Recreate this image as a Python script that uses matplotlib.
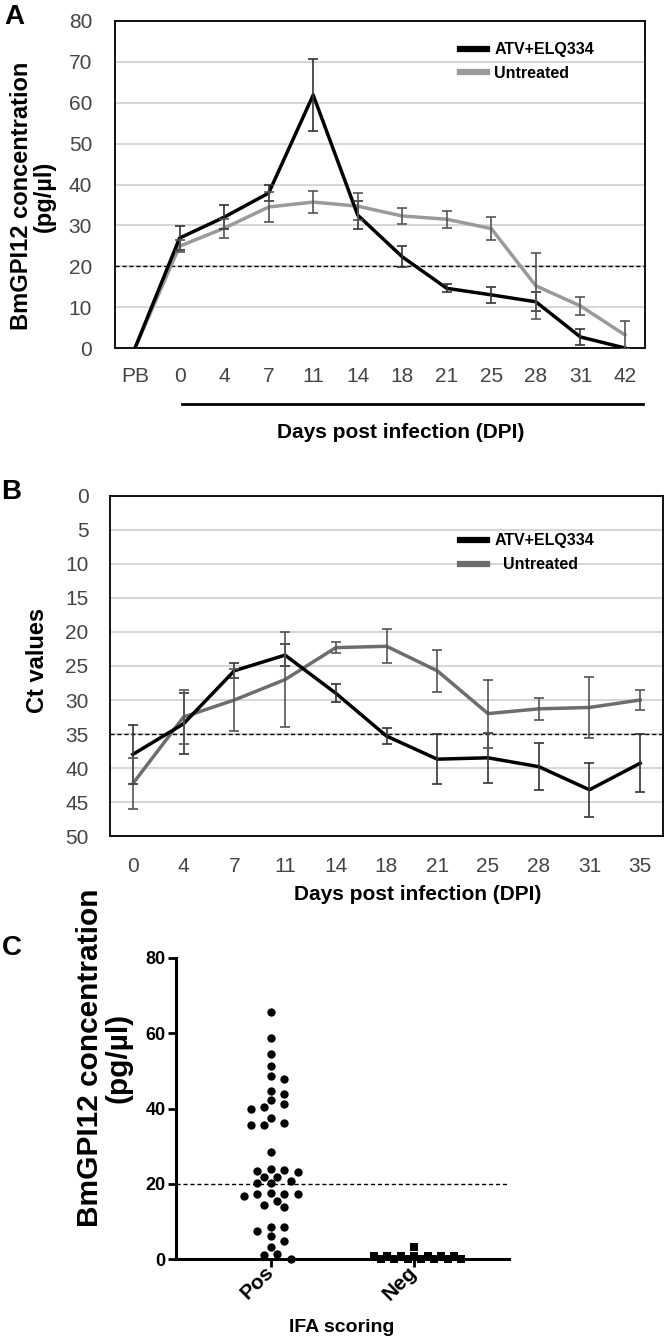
import numpy as np
import matplotlib
matplotlib.use("Agg")
import matplotlib.pyplot as plt
from matplotlib.lines import Line2D

plt.rcParams['font.family'] = ['Liberation Sans', 'DejaVu Sans']

# ---- panel A data: BmGPI12 concentration (pg/ul) ----
days_a = ['PB', '0', '4', '7', '11', '14', '18', '21', '25', '28', '31', '42']
atv_a = [0, 26.9, 32.0, 37.9, 61.9, 32.5, 22.3, 14.6, 13.0, 11.3, 2.7, 0]
atv_a_err = [np.nan, 3.0, 3.0, 2.0, 8.9, 3.5, 2.6, 1.0, 2.0, 2.3, 2.0, np.nan]
unt_a = [0, 24.9, 29.3, 34.5, 35.7, 34.7, 32.3, 31.5, 29.2, 15.2, 10.3, 3.2]
unt_a_err = [np.nan, 1.5, 2.3, 3.7, 2.6, 3.3, 2.0, 2.1, 2.9, 8.0, 2.2, 3.4]

# ---- panel B data: Ct values ----
days_b = ['0', '4', '7', '11', '14', '18', '21', '25', '28', '31', '35']
atv_b = [38.0, 33.5, 25.7, 23.4, 29.0, 35.3, 38.7, 38.5, 39.8, 43.2, 39.3]
atv_b_err = [4.3, 4.5, 1.1, 1.6, 1.3, 1.2, 3.7, 3.7, 3.5, 4.0, 4.3]
unt_b = [42.3, 32.5, 30.0, 27.0, 22.3, 22.1, 25.7, 32.0, 31.3, 31.1, 30.0]
unt_b_err = [3.8, 4.0, 4.5, 7.0, 0.8, 2.5, 3.1, 5.0, 1.6, 4.5, 1.5]

# ---- panel C data: IFA scoring ----
ifa_groups = ['Pos', 'Neg']
pos_vals = [65.7, 58.7, 54.5, 51.4, 48.6, 47.8, 44.6, 43.8, 42.3, 40.5, 39.9, 41.1,
            36.2, 35.6, 35.6, 37.4, 28.5, 23.7, 23.2, 21.9, 20.7, 20.1, 21.9, 20.3,
            23.5, 23.8, 17.3, 17.3, 15.5, 17.5, 16.7, 17.3, 13.9, 14.3, 8.4, 6.1,
            4.9, 7.5, 8.4, 3.1, 1.3, 1.1, 0.0]
neg_vals = [3.2, 0.7, 0.7, 0.7, 0.7, 0.7, 0.7, 0.7, 0.0, 0.0, 0.0, 0.0, 0.0, 0.0, 0.0]

W, H = 666, 1337
fig = plt.figure(figsize=(W / 100, H / 100), dpi=100)


def box(l, t, r, b):
    return [l / W, 1 - b / H, (r - l) / W, (b - t) / H]


def line_panel(ax, cats, atv, atv_err, unt, unt_err, grey, unt_label):
    x = np.arange(len(cats))
    ax.plot(x, atv, color='black', lw=2.5, label='ATV+ELQ334', zorder=4)
    ax.plot(x, unt, color=grey, lw=2.5, label=unt_label, zorder=3)
    ax.errorbar(x, atv, yerr=atv_err, fmt='none', ecolor='#333333',
                elinewidth=1.2, capsize=3.5, capthick=1.2, zorder=5)
    ax.errorbar(x, unt, yerr=unt_err, fmt='none', ecolor='#555555',
                elinewidth=1.2, capsize=3.5, capthick=1.2, zorder=5)
    ax.set_xticks(x)
    ax.set_xticklabels(cats)
    ax.set_xlim(-0.45, len(cats) - 0.55)
    ax.grid(axis='y', color='#cfcfcf', lw=1.2)
    ax.set_axisbelow(True)
    for s in ax.spines.values():
        s.set_color('black')
        s.set_linewidth(1.3)
    ax.tick_params(length=0, labelsize=15, labelcolor='#444444')
    leg = ax.legend(loc='upper left', frameon=False,
                    prop={'weight': 'bold', 'size': 11.5},
                    handlelength=1.7, handletextpad=0.45, labelspacing=0.55,
                    borderpad=0, borderaxespad=0)
    for h in leg.get_lines():
        h.set_linewidth(4.5)
    return leg


# ---------- A ----------
axA = fig.add_axes(box(115, 21, 645, 348))
legA = line_panel(axA, days_a, atv_a, atv_a_err, unt_a, unt_a_err, '#9a9a9a', 'Untreated')
legA.set_bbox_to_anchor((0.651, 0.935), transform=axA.transAxes)
axA.set_ylim(0, 80)
axA.set_yticks(range(0, 81, 10))
axA.axhline(20, color='black', lw=1, ls=(0, (3, 2)), zorder=2)
axA.tick_params(axis='y', pad=16.5)
axA.tick_params(axis='x', pad=14)
fig.add_artist(Line2D([182 / W, 643 / W], [1 - 404 / H, 1 - 404 / H],
                      color='black', lw=2))
fig.text(401 / W, 1 - 433 / H, 'Days post infection (DPI)', ha='center', va='center',
         fontsize=15, fontweight='bold')
fig.text(33 / W, 1 - 196 / H, 'BmGPI12 concentration\n(pg/µl)', rotation=90,
         ha='center', va='center', fontsize=17, fontweight='bold', linespacing=1.0)
fig.text(14 / W, 1 - 17 / H, 'A', ha='center', va='center', fontsize=20, fontweight='bold')

# ---------- B ----------
axB = fig.add_axes(box(110, 496, 663, 836))
legB = line_panel(axB, days_b, atv_b, atv_b_err, unt_b, unt_b_err, '#6d6d6d', '  Untreated')
legB.set_bbox_to_anchor((0.633, 0.89), transform=axB.transAxes)
axB.set_ylim(50, 0)
axB.set_yticks(range(0, 51, 5))
axB.axhline(35, color='black', lw=1, ls=(0, (3, 2)), zorder=2)
axB.tick_params(axis='y', pad=15.5)
axB.tick_params(axis='x', pad=15)
fig.text(418 / W, 1 - 895 / H, 'Days post infection (DPI)', ha='center', va='center',
         fontsize=15, fontweight='bold')
fig.text(37 / W, 1 - 660 / H, 'Ct values', rotation=90, ha='center', va='center',
         fontsize=17, fontweight='bold')
fig.text(11 / W, 1 - 492 / H, 'B', ha='center', va='center', fontsize=20, fontweight='bold')

# ---------- C ----------
axC = fig.add_axes(box(176, 958, 509, 1259))
axC.set_xlim(-0.66, 1.66)
axC.set_ylim(0, 80)


def swarm(values, ax, diam=7.8, step=6.7):
    # simple beeswarm: spread points sideways so that markers do not overlap
    pos = ax.get_position()
    x0, x1 = ax.get_xlim()
    y0, y1 = ax.get_ylim()
    ppx = pos.width * W / (x1 - x0)
    ppy = pos.height * H / (y1 - y0)
    vals = np.asarray(values, float)
    offs = np.zeros(len(vals))
    placed = []
    cands = [0]
    for k in range(1, 30):
        cands += [k, -k]
    for i in np.argsort(-vals, kind='stable'):
        y = vals[i] * ppy
        for k in cands:
            xo = k * step
            if all((xo - px) ** 2 + (y - py) ** 2 >= diam ** 2 for px, py in placed):
                break
        placed.append((xo, y))
        offs[i] = xo / ppx
    return offs


axC.scatter(0 + swarm(pos_vals, axC, diam=8.6), pos_vals, s=36, color='black', marker='o',
            clip_on=False, zorder=4, linewidths=0)
axC.scatter(1 + swarm(neg_vals, axC, diam=6.9), neg_vals, s=32, color='black', marker='s',
            clip_on=False, zorder=4, linewidths=0)
axC.axhline(20, color='black', lw=1, ls=(0, (3, 2)), zorder=2)
for s in ['top', 'right']:
    axC.spines[s].set_visible(False)
for s in ['left', 'bottom']:
    axC.spines[s].set_linewidth(2.2)
axC.set_yticks(range(0, 81, 20))
axC.set_xticks([0, 1])
axC.set_xticklabels(ifa_groups, rotation=45, ha='right', va='center',
                    rotation_mode='anchor')
axC.tick_params(length=6, width=2, labelsize=13, pad=1.5)
axC.tick_params(axis='x', labelsize=15)
for lab in axC.get_xticklabels() + axC.get_yticklabels():
    lab.set_fontweight('bold')
fig.text(342 / W, 1 - 1327 / H, 'IFA scoring', ha='center', va='center',
         fontsize=14, fontweight='bold')
fig.text(104 / W, 1 - 1058 / H, 'BmGPI12 concentration\n(pg/µl)', rotation=90,
         ha='center', va='center', fontsize=21.5, fontweight='bold', linespacing=1.0)
fig.text(12 / W, 1 - 948 / H, 'C', ha='center', va='center', fontsize=20, fontweight='bold')

plt.savefig('out.png', dpi=100)
